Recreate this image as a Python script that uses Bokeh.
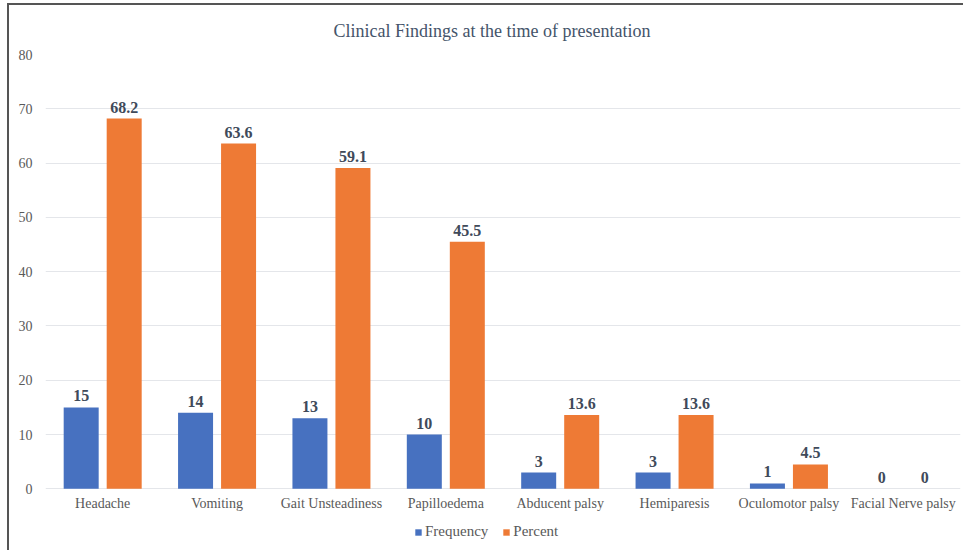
from bokeh.plotting import figure
from bokeh.models import (ColumnDataSource, FactorRange, Range1d, Legend, LegendItem,
                          FixedTicker, LabelSet)
from bokeh.core.properties import value
from bokeh.transform import dodge
from bokeh.embed import file_html
from bokeh.resources import INLINE

categories = ["Headache", "Vomiting", "Gait Unsteadiness", "Papilloedema",
              "Abducent palsy", "Hemiparesis", "Oculomotor palsy", "Facial Nerve palsy"]
frequency = [15, 14, 13, 10, 3, 3, 1, 0]
percent = [68.2, 63.6, 59.1, 45.5, 13.6, 13.6, 4.5, 0]
freq_labels = ["15", "14", "13", "10", "3", "3", "1", "0"]
pct_labels = ["68.2", "63.6", "59.1", "45.5", "13.6", "13.6", "4.5", "0"]
y_ticks = [0, 10, 20, 30, 40, 50, 60, 70, 80]

src = ColumnDataSource(dict(cat=categories, freq=frequency, pct=percent,
                            fl=freq_labels, pl=pct_labels))

FONT = "Liberation Serif"

# frame extends below zero so the category labels and legend can live inside it
p = figure(x_range=FactorRange(*categories), y_range=Range1d(-11.35, 80),
           width=956, height=547, output_backend="svg", toolbar_location=None,
           min_border_left=36, min_border_right=5, min_border_top=46, min_border_bottom=2)
p.margin = (3, 0, 0, 7)
p.styles = {"border-left": "2px solid #555555", "border-top": "2px solid #555555"}

p.title.text = "Clinical Findings  at the time of presentation"
p.title.align = "left"
p.title.offset = 288
p.title.text_font = FONT
p.title.text_font_size = "18px"
p.title.text_font_style = "normal"
p.title.text_color = "#44546A"
p.title.standoff = 27

off = 0.188
bw = 0.306
r1 = p.vbar(x=dodge("cat", -off, range=p.x_range), top="freq", width=bw, source=src,
            fill_color="#4771C0", line_color=None)
r2 = p.vbar(x=dodge("cat", off, range=p.x_range), top="pct", width=bw, source=src,
            fill_color="#EE7A35", line_color=None)

for xcol, ycol, tcol in [(-off, "freq", "fl"), (off, "pct", "pl")]:
    ls = LabelSet(x=dodge("cat", xcol, range=p.x_range), y=ycol, text=tcol, source=src,
                  text_align="center", text_baseline="bottom", y_offset=6,
                  text_font=FONT, text_font_size="16px", text_font_style="bold",
                  text_color="#404A5A")
    p.add_layout(ls)

# category labels (x axis)
cat_labels = LabelSet(x="cat", y=value(0), text="cat", source=src,
                      text_align="center", text_baseline="top", y_offset=-7,
                      text_font=FONT, text_font_size="14px", text_color="#595959")
p.add_layout(cat_labels)
p.xaxis.visible = False

p.yaxis.ticker = FixedTicker(ticks=y_ticks)
p.yaxis.axis_line_color = None
p.yaxis.major_tick_line_color = None
p.yaxis.minor_tick_line_color = None
p.yaxis.major_label_text_font = FONT
p.yaxis.major_label_text_font_size = "14px"
p.yaxis.major_label_text_color = "#595959"
p.yaxis.major_label_standoff = 7

p.xgrid.grid_line_color = None
p.ygrid.grid_line_color = "#E4E6EA"
p.ygrid.grid_line_width = 1
p.outline_line_color = None
p.x_range.range_padding = 0

legend = Legend(items=[LegendItem(label="Frequency", renderers=[r1]),
                       LegendItem(label="Percent", renderers=[r2])],
                orientation="horizontal", location=(369, 10),
                label_text_font=FONT, label_text_font_size="15px",
                label_text_color="#595959", glyph_width=8, glyph_height=8,
                label_standoff=3, spacing=14, padding=2, margin=0,
                border_line_color=None, background_fill_alpha=0)
p.add_layout(legend)

open("out.html", "w").write(file_html(p, INLINE))
